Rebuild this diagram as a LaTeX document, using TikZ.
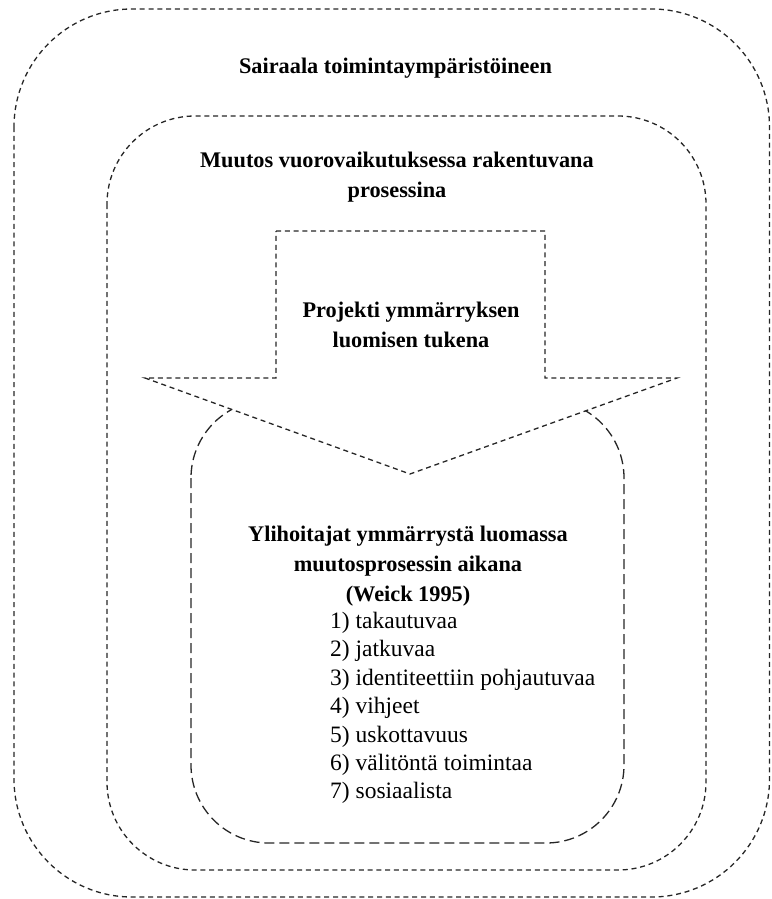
\documentclass[tikz,border=0pt]{standalone}
\usepackage{fontspec}
\setmainfont{Liberation Serif}

\begin{document}
\begin{tikzpicture}[x=1pt,y=-1pt,
    frame/.style={draw=black!85,line width=1.3pt,dash pattern=on 5pt off 3.8pt},
    longframe/.style={draw=black!85,line width=1.3pt,dash pattern=on 10pt off 5pt},
    heading/.style={font=\fontsize{22.3}{30}\selectfont\bfseries,align=center,inner sep=0pt},
    listtext/.style={font=\fontsize{23.5}{28.4}\selectfont,align=left,inner sep=0pt}]
    	% border
    	\useasboundingbox (0,0) rectangle (771,899);
    	% hospital box
    	\draw[frame,rounded corners=118pt] (14,9) rectangle (769.5,897);
    	% change process box
    	\draw[frame,rounded corners=88pt] (107,116) rectangle (706,870);
    	% sensemaking box (partly hidden by the arrow)
    	\draw[longframe,rounded corners=78pt] (191,400) rectangle (624,843);
    	% project arrow
    	\draw[frame,fill=white] (276,231) -- (545,231) -- (545,378) -- (677,378)
    	    -- (410,474) -- (145,378) -- (276,378) -- cycle;
    	% labels
    	\node[heading] (hospital) at (395.5,68) {Sairaala toimintaympäristöineen};
    	\node[heading] (change) at (397,177) {Muutos vuorovaikutuksessa rakentuvana\\prosessina};
    	\node[heading] (project) at (411,325) {Projekti ymmärryksen\\luomisen tukena};
    	\node[heading] (managers) at (408,566) {Ylihoitajat ymmärrystä luomassa\\muutosprosessin aikana\\(Weick 1995)};
    	\node[listtext,anchor=west] (properties) at (330,708) {1) takautuvaa\\2) jatkuvaa\\3) identiteettiin pohjautuvaa\\4) vihjeet\\5) uskottavuus\\6) välitöntä toimintaa\\7) sosiaalista};
\end{tikzpicture}
\end{document}
